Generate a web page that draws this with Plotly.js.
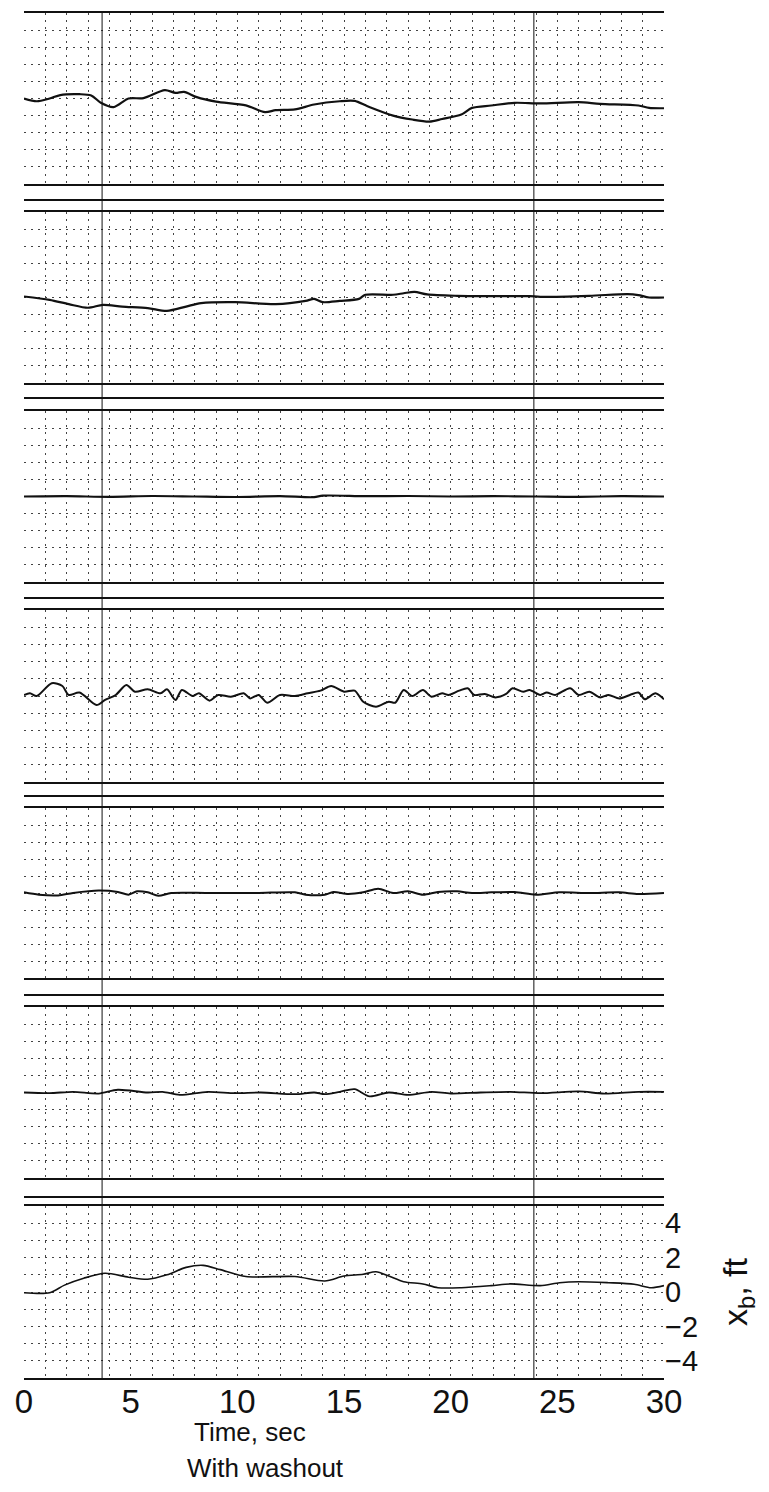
<!DOCTYPE html>
<html><head><meta charset="utf-8">
<script src="https://cdn.plot.ly/plotly-3.0.1.min.js"></script>
<style>body{margin:0;background:#fff}</style>
</head><body><div id="chart" style="width:769px;height:1492px"></div>
<script>
// Time axis labels and x_b axis labels
const timeTicks = [0, 5, 10, 15, 20, 25, 30];
const xbTicks = [-4, -2, 0, 2, 4];
// Timing marks on the record (sec)
const timingMarks = [3.66, 23.9];

// Trace 1
const t1 = [0,0.6,1.2,1.7,2.6,3.15,3.6,4.2,4.9,5.6,6.6,7.1,7.5,8.1,9.0,10.4,11.3,11.8,12.7,13.6,14.8,15.5,16.1,17.3,18.2,19.0,19.6,20.5,21.0,21.9,23.0,24.2,26.0,27.0,28.8,29.3,30];
const v1 = [0,-0.16,0,0.2,0.25,0.18,-0.25,-0.5,0,0.02,0.49,0.33,0.39,0.08,-0.18,-0.4,-0.8,-0.68,-0.64,-0.35,-0.16,-0.14,-0.45,-1.0,-1.23,-1.35,-1.2,-0.94,-0.55,-0.41,-0.25,-0.29,-0.21,-0.31,-0.41,-0.55,-0.57];
// Trace 2
const t2 = [0,1.2,2.1,3.0,3.7,4.6,5.8,6.7,7.6,8.3,9.9,11.8,13.2,13.6,14.0,14.8,15.7,16.0,17.3,17.8,18.3,18.9,20.3,21.9,23.7,24.2,26.5,28.3,28.8,29.3,30];
const v2 = [0.06,-0.14,-0.39,-0.6,-0.43,-0.53,-0.62,-0.78,-0.53,-0.33,-0.27,-0.39,-0.2,-0.08,-0.27,-0.2,-0.08,0.16,0.16,0.25,0.33,0.18,0.1,0.08,0.08,0.04,0.1,0.2,0.14,0,0];
// Trace 3
const t3 = [0,2,4,6,8,10,12,13.6,14,16,18,20,22,24,26,28,30];
const v3 = [0,0.02,-0.02,0.03,0,-0.03,0.02,-0.04,0.05,0.02,0.03,0,0.02,0,-0.02,0.02,0];
// Trace 4
const t4 = [0,0.28,0.6,1.3,1.8,2.1,2.6,3.4,3.8,4.3,4.8,5.2,5.8,6.4,6.7,7.1,7.4,7.9,8.2,8.7,9.1,9.7,10.3,10.6,11.0,11.4,12.0,12.7,13.3,13.9,14.4,15.0,15.5,15.9,16.5,17.1,17.4,17.8,18.2,18.7,19.1,19.6,19.9,20.4,20.8,21.1,21.6,22.1,22.6,22.9,23.4,23.7,24.2,24.5,24.9,25.6,26.0,26.5,27.0,27.4,27.9,28.4,28.8,29.1,29.6,30];
const v4 = [0.06,0.16,0,0.74,0.58,0.06,0.2,-0.53,-0.23,0.06,0.64,0.25,0.39,0.16,0.39,-0.23,0.35,0,0.16,-0.27,0.06,-0.04,0.16,-0.14,0.06,-0.39,0.06,0,0.16,0.31,0.58,0.25,0.31,-0.33,-0.62,-0.33,-0.39,0.35,0,0.35,-0.04,0.16,0.06,0.31,0.45,0.06,0.12,-0.08,0.12,0.45,0.25,0.35,0.06,0.2,0.06,0.45,0.06,0.25,-0.08,0.06,-0.14,0.06,0.2,-0.19,0.16,-0.19];
// Trace 5
const t5 = [0,0.7,1.6,2.3,3.5,4.4,4.9,5.3,5.8,6.3,6.9,8.6,10.9,12.7,13.2,14.1,14.5,15.2,15.9,16.6,17.3,18.0,18.7,19.4,20.3,21.0,21.9,23.0,24.0,25.1,26.5,27.9,28.8,30];
const v5 = [0.04,-0.1,-0.14,0,0.14,0.06,-0.1,0.1,0.04,-0.16,0,0,0,0.04,-0.1,-0.1,0.06,-0.06,0.04,0.25,0,0.1,-0.1,0.06,0.1,0,0.04,0.06,-0.1,0.04,0,0.04,-0.06,0];
// Trace 6
const t6 = [0,1.2,2.3,3.5,4.4,5.8,6.5,7.3,8.6,9.9,11.1,12.7,13.6,14.1,14.8,15.5,16.2,17.1,18.0,19.1,20.0,21.4,22.8,24.2,26.0,27.2,28.8,30];
const v6 = [0,-0.04,0.04,-0.06,0.16,0,0.04,-0.14,0.04,-0.04,0,-0.1,0,-0.1,0.04,0.2,-0.23,0,-0.14,0.04,-0.06,0,0.04,-0.04,0.06,-0.06,0.04,0.04];
// Trace 7: x_b, ft
const t7 = [0,1.2,1.9,2.8,3.8,4.9,5.8,6.7,7.6,8.4,9.2,10.4,12.7,14.1,15.0,15.9,16.5,17.1,17.8,18.7,19.4,20.5,21.9,22.8,24.2,25.1,26.0,27.4,28.6,29.4,30];
const v7 = [-0.04,-0.04,0.4,0.8,1.09,0.86,0.74,1.0,1.43,1.55,1.3,0.9,0.9,0.64,0.93,1.03,1.18,0.93,0.6,0.47,0.25,0.25,0.37,0.47,0.37,0.54,0.6,0.54,0.45,0.25,0.37];

const times = [t1,t2,t3,t4,t5,t6,t7];
const vals = [v1,v2,v3,v4,v5,v6,v7];
const widths = [2.2,2.2,2.2,2,2,1.8,1.6];

// panel pixel bounds [top,bottom]
const H = 1492, T = 13, B = 114, L = 24, R = 105;
const plotH = H - T - B;
const panels = [[13,184],[212,383],[411,582],[610,782],[808,978],[1007,1178],[1206,1378]];
const sepLines = [200,398,598,796,995,1197];
const toPaper = y => (H - B - y) / plotH;

const FONT = '"Liberation Sans", Arial, sans-serif';
const gridCol = '#444';
const gridDash = '2px,5px';

const data = [];
const layout = {
  width: 769, height: 1492,
  margin: {l: L, r: R, t: T, b: B},
  paper_bgcolor: '#fff', plot_bgcolor: '#fff',
  showlegend: false,
  font: {family: FONT, color: '#111', size: 16},
  shapes: [], annotations: []
};

for (let k = 0; k < 7; k++) {
  const n = k + 1;
  const sfx = (n === 1 ? '' : String(n));
  const last = (k === 6);
  data.push({
    x: times[k], y: vals[k], type: 'scatter', mode: 'lines',
    xaxis: 'x' + sfx, yaxis: 'y' + sfx,
    line: {color: '#111', width: widths[k], shape: 'spline', smoothing: 0.8},
    hoverinfo: 'skip'
  });
  layout['xaxis' + sfx] = {
    anchor: 'y' + sfx,
    range: [0, 30], domain: [0, 1],
    showline: true, mirror: true, linecolor: '#111', linewidth: 1.8,
    tickmode: 'array', tickvals: timeTicks,
    showticklabels: last, ticks: '', ticklabelstandoff: -6,
    showgrid: false, zeroline: false,
    tickfont: {size: 33, family: FONT, color: '#111'},
    minor: {tickmode: 'linear', tick0: 0, dtick: 1, showgrid: true, griddash: gridDash, gridcolor: gridCol, gridwidth: 1}
  };
  layout['yaxis' + sfx] = {
    anchor: 'x' + sfx,
    domain: [toPaper(panels[k][1]), toPaper(panels[k][0])],
    range: [-5, 5], side: 'right',
    tickmode: 'array', tickvals: xbTicks,
    showticklabels: last, ticks: '', showgrid: false, zeroline: false, showline: false,
    tickfont: {size: 29, family: FONT, color: '#111'},
    minor: {tickmode: 'linear', tick0: 0, dtick: 1, showgrid: true, griddash: gridDash, gridcolor: gridCol, gridwidth: 1}
  };
  if (last) {
    layout['yaxis' + sfx].title = {text: 'x<sub>b</sub>, ft', font: {size: 34, family: FONT, color: '#111'}, standoff: 26};
  }
}

sepLines.forEach(y => layout.shapes.push({
  type: 'line', xref: 'paper', yref: 'paper', x0: 0, x1: 1, y0: toPaper(y), y1: toPaper(y),
  line: {color: '#111', width: 1.8}
}));
timingMarks.forEach(tm => layout.shapes.push({
  type: 'line', xref: 'x7', yref: 'paper', x0: tm, x1: tm, y0: 0, y1: 1,
  line: {color: '#111', width: 1}
}));

layout.annotations.push({
  text: 'Time, sec', xref: 'paper', yref: 'paper', x: (250 - L) / 640, y: toPaper(1432),
  showarrow: false, xanchor: 'center', yanchor: 'middle', font: {size: 26, family: FONT, color: '#111'}
});
layout.annotations.push({
  text: 'With washout', xref: 'paper', yref: 'paper', x: (265 - L) / 640, y: toPaper(1468),
  showarrow: false, xanchor: 'center', yanchor: 'middle', font: {size: 26, family: FONT, color: '#111'}
});

Plotly.newPlot('chart', data, layout, {staticPlot: true, displayModeBar: false});
</script></body></html>
